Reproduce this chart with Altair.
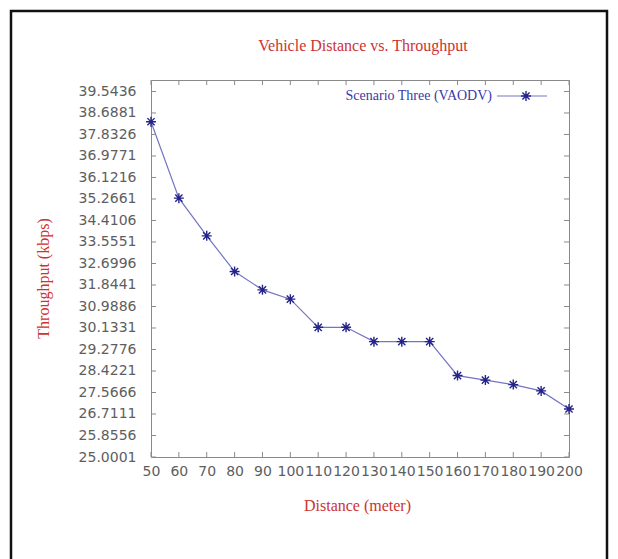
import altair as alt
import pandas as pd

distance = [50, 60, 70, 80, 90, 100, 110, 120, 130, 140, 150, 160, 170, 180, 190, 200]
throughput = [38.34, 35.30, 33.80, 32.38, 31.65, 31.28, 30.16, 30.16, 29.59, 29.59, 29.59,
              28.24, 28.06, 27.88, 27.63, 26.91]
y_ticks = [25.0001, 25.8556, 26.7111, 27.5666, 28.4221, 29.2776, 30.1331, 30.9886, 31.8441,
           32.6996, 33.5551, 34.4106, 35.2661, 36.1216, 36.9771, 37.8326, 38.6881, 39.5436]
x_ticks = [50, 60, 70, 80, 90, 100, 110, 120, 130, 140, 150, 160, 170, 180, 190, 200]
series_name = "Scenario Three (VAODV)"
title_text = "Vehicle Distance vs. Throughput"
x_title = "Distance (meter)"
y_title = "Throughput (kbps)"

W, H = 418, 377
RED = "#cc3333"
BLUE_LINE = "#7474c4"
BLUE_MARK = "#23238a"
GRAY = "#5e5e5e"
ASTERISK = "M-1,0L1,0M0,-1L0,1M-0.72,-0.72L0.72,0.72M-0.72,0.72L0.72,-0.72"

df = pd.DataFrame({"Distance": distance, "Throughput": throughput})
ydf = pd.DataFrame({"Throughput": y_ticks})
xdf = pd.DataFrame({"Distance": x_ticks})

xscale = alt.Scale(domain=[50, 200], nice=False, zero=False)
yscale = alt.Scale(domain=[25.0001, 40], nice=False, zero=False)

x_axis = alt.Axis(values=x_ticks, title=x_title, grid=False, ticks=False, domain=False,
                  labelFont="DejaVu Sans", labelFontSize=14, labelColor=GRAY, labelPadding=7,
                  labelFlush=False, labelOverlap=False,
                  titleFont="Liberation Serif", titleFontSize=16, titleFontWeight="normal",
                  titleColor=RED, titleX=206, titleY=48, titleAlign="center",
                  titleBaseline="middle", titleAnchor="middle")
y_axis = alt.Axis(values=y_ticks, format=".4f", title=y_title, grid=False, ticks=False,
                  domain=False, labelFont="DejaVu Sans", labelFontSize=14, labelColor=GRAY,
                  labelPadding=15, labelOverlap=False, labelFlush=False,
                  titleFont="Liberation Serif", titleFontSize=16, titleFontWeight="normal",
                  titleColor=RED, titleX=-108, titleY=198, titleAngle=-90,
                  titleAlign="center", titleBaseline="middle")

X = alt.X("Distance:Q", scale=xscale, axis=x_axis)
Y = alt.Y("Throughput:Q", scale=yscale, axis=y_axis)

base = alt.Chart(df)
line = base.mark_line(color=BLUE_LINE, strokeWidth=1.2).encode(x=X, y=Y)
pts = base.mark_point(shape=ASTERISK, size=100, filled=False, color=BLUE_MARK,
                      strokeWidth=1.4, opacity=1).encode(x=X, y=Y)

tick_style = dict(color="#8a8a8a", strokeWidth=1)
yl = alt.Chart(ydf).mark_rule(**tick_style).encode(y=Y, x=alt.value(0), x2=alt.value(5))
yr = alt.Chart(ydf).mark_rule(**tick_style).encode(y=Y, x=alt.value(W - 5), x2=alt.value(W))
xb = alt.Chart(xdf).mark_rule(**tick_style).encode(x=X, y=alt.value(H - 5), y2=alt.value(H))
xt = alt.Chart(xdf).mark_rule(**tick_style).encode(x=X, y=alt.value(0), y2=alt.value(5))

one = alt.Data(values=[{"t": title_text, "s": series_name}])
title = alt.Chart(one).mark_text(font="Liberation Serif", fontSize=16, color=RED,
                                 align="center", baseline="middle").encode(
    text="t:N", x=alt.value(212), y=alt.value(-34))
leg_text = alt.Chart(one).mark_text(font="Liberation Serif", fontSize=14, color="#3a3aa8",
                                    align="right", baseline="middle").encode(
    text="s:N", x=alt.value(341), y=alt.value(16))
leg_line = alt.Chart(one).mark_rule(color=BLUE_LINE, strokeWidth=1.2).encode(
    x=alt.value(346), x2=alt.value(396), y=alt.value(16))
leg_pt = alt.Chart(one).mark_point(shape=ASTERISK, size=100, filled=False, color=BLUE_MARK,
                                   strokeWidth=1.4, opacity=1).encode(
    x=alt.value(375), y=alt.value(16))
border = alt.Chart(one).mark_rect(filled=False, stroke="#111111", strokeWidth=2.5).encode(
    x=alt.value(-140), x2=alt.value(456), y=alt.value(-69), y2=alt.value(520))

chart = alt.layer(line, pts, yl, yr, xb, xt, title, leg_text, leg_line, leg_pt, border).properties(
    width=W, height=H,
    autosize=alt.AutoSizeParams(type="none"),
    padding={"left": 143, "top": 72, "right": 41, "bottom": 102},
    background="white",
).configure_view(stroke="#8a8a8a", strokeWidth=1)

chart.save("out.html", embed_options={"renderer": "svg", "actions": False})
